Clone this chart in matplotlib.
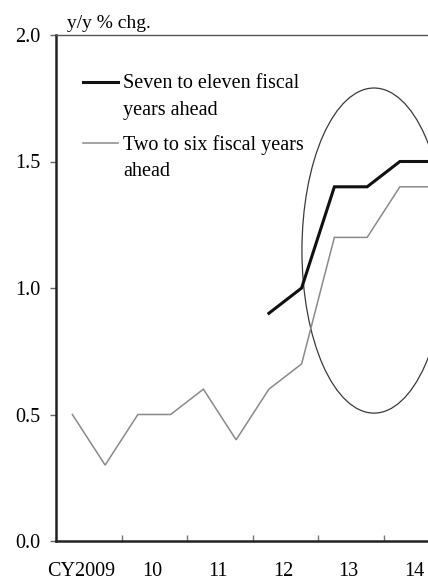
import numpy as np
import matplotlib
matplotlib.use("Agg")
import matplotlib.pyplot as plt
import matplotlib.transforms as mtransforms
from matplotlib.patches import Ellipse

plt.rcParams['font.family'] = ['Liberation Serif', 'DejaVu Serif']

# half-year observations, two per calendar year
years = ['CY2009', '10', '11', '12', '13', '14']
two_to_six = [0.5, 0.3, 0.5, 0.5, 0.6, 0.4, 0.6, 0.7, 1.2, 1.2, 1.4, 1.4]
seven_to_eleven = [0.9, 1.0, 1.4, 1.4, 1.5, 1.5]
seven_start = 6  # first half-year with a long-range figure

x_all = np.arange(len(two_to_six)) * 0.5 + 0.25
x_long = x_all[seven_start:]

fig = plt.figure(figsize=(4.28, 5.81), dpi=100)
# right edge runs past the figure so the last points are cut off
ax = fig.add_axes([56 / 428, 40 / 581, 393 / 428, 506 / 581])

ax.plot(x_all, two_to_six, color='#8a8a8a', lw=1.1, solid_joinstyle='miter')
ax.plot(x_long, seven_to_eleven, color='#111111', lw=2.2, solid_joinstyle='miter')

ax.add_patch(Ellipse((4.855, 1.148), 2.2, 1.285, fill=False,
                     edgecolor='#3a3a3a', lw=0.9))

ax.set_xlim(0, 6)
ax.set_ylim(0, 2.0)

ax.set_yticks([0.0, 0.5, 1.0, 1.5, 2.0])
ax.set_yticklabels(['0.0', '0.5', '1.0', '1.5', '2.0'])
ax.tick_params(axis='y', direction='out', length=4, width=1, color='#666666',
               labelsize=14.5, pad=7)

ax.set_xticks(np.arange(1, 7))
ax.set_xticklabels([])
ax.set_xticks(np.arange(len(years)) + 0.5, minor=True)
ax.set_xticklabels(years, minor=True)
ax.tick_params(axis='x', which='major', direction='in', length=4, width=1,
               color='#777777')
ax.tick_params(axis='x', which='minor', length=0, labelsize=14.5, pad=15)

# nudge the year labels a touch left, the first one a bit more
for i, lab in enumerate(ax.get_xticklabels(minor=True)):
    dx = -8 if i == 0 else -2
    lab.set_transform(lab.get_transform() +
                      mtransforms.ScaledTranslation(dx / 100, 0, fig.dpi_scale_trans))

for side in ['left', 'bottom']:
    ax.spines[side].set_linewidth(1.8)
    ax.spines[side].set_color('#222222')
ax.spines['top'].set_linewidth(1.0)
ax.spines['top'].set_color('#555555')
ax.spines['right'].set_visible(False)

ax.text(0.028, 1.006, 'y/y % chg.', transform=ax.transAxes, fontsize=14,
        ha='left', va='bottom')

# key drawn by hand so each line sits on the first row of its label
keys = [('Seven to eleven fiscal\nyears ahead', '#111111', 2.2, 0.907),
        ('Two to six fiscal years\nahead', '#8a8a8a', 1.1, 0.787)]
for label, col, lw, yk in keys:
    ax.plot([0.069, 0.158], [yk, yk], color=col, lw=lw, transform=ax.transAxes,
            clip_on=False)
    ax.text(0.170, yk + 0.015, label, transform=ax.transAxes, fontsize=14.5,
            ha='left', va='top', linespacing=1.52)

fig.savefig('out.png', dpi=100)
